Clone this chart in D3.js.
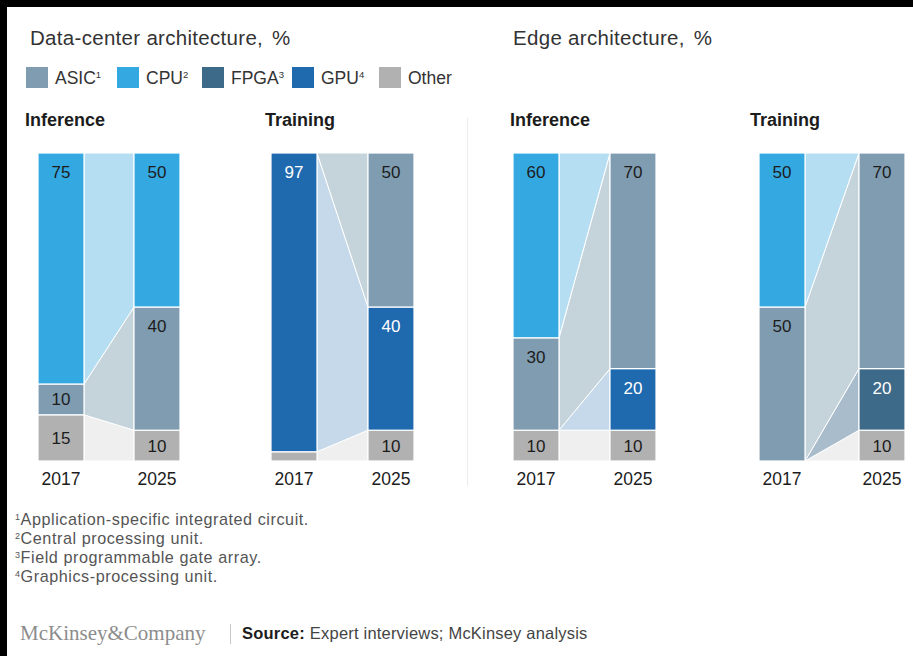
<!DOCTYPE html>
<html>
<head>
<meta charset="utf-8">
<script src="https://cdn.jsdelivr.net/npm/d3@7"></script>
<style>
  html, body { margin: 0; padding: 0; background: #000; }
  svg { display: block; font-family: "Liberation Sans", Arial, sans-serif; }
</style>
</head>
<body>
<svg id="chart" width="913" height="656"></svg>
<script>
// Chip categories with footnote markers
const categories = ["ASIC", "CPU", "FPGA", "GPU", "Other"];
const categoryNotes = ["1", "2", "3", "4", ""];
const years = ["2017", "2025"];

// Section titles and panel names
const sectionTitles = ["Data-center architecture,", "Edge architecture,"];
const panelNames = ["Inference", "Training", "Inference", "Training"];

// Stacking order (bottom to top) and shares, per panel
const stackOrder = [
  ["Other", "ASIC", "CPU"],
  ["Other", "GPU", "ASIC"],
  ["Other", "GPU", "ASIC", "CPU"],
  ["Other", "FPGA", "ASIC", "CPU"]
];
const values2017 = [
  [15, 10, 75],
  [3, 97, 0],
  [10, 0, 30, 60],
  [0, 0, 50, 50]
];
const values2025 = [
  [10, 40, 50],
  [10, 40, 50],
  [10, 20, 70, 0],
  [10, 20, 70, 0]
];

const footnotes = [
  ["1", "Application-specific integrated circuit."],
  ["2", "Central processing unit."],
  ["3", "Field programmable gate array."],
  ["4", "Graphics-processing unit."]
];

// Colors
const barColor = d3.scaleOrdinal().domain(categories)
  .range(["#7f9cb1", "#34a9e1", "#3e6a8a", "#1f69ae", "#b1b1b1"]);
const bandColor = d3.scaleOrdinal().domain(categories)
  .range(["#c5d3db", "#b5def2", "#a9bccb", "#c5d9eb", "#efefef"]);
const labelColor = d3.scaleOrdinal().domain(categories)
  .range(["#1c1c1c", "#1c1c1c", "#ffffff", "#ffffff", "#1c1c1c"]);

const svg = d3.select("#chart");
svg.append("rect").attr("x", 7).attr("y", 7).attr("width", 906).attr("height", 649).attr("fill", "#fff");

// Section titles
const sectionX = [30, 513];
sectionTitles.forEach((t, i) => {
  const tx = svg.append("text").attr("x", sectionX[i]).attr("y", 45)
    .attr("font-size", 20.5).attr("letter-spacing", 0.3).attr("fill", "#333");
  tx.append("tspan").text(t);
  tx.append("tspan").attr("dx", 9).text("%");
});

// Legend
const legendX = [26, 117, 202, 292, 379];
const legend = svg.append("g");
categories.forEach((c, i) => {
  legend.append("rect").attr("x", legendX[i]).attr("y", 67).attr("width", 22).attr("height", 21)
    .attr("fill", barColor(c));
  const t = legend.append("text").attr("x", legendX[i] + 29).attr("y", 84)
    .attr("font-size", 17.5).attr("fill", "#333");
  t.append("tspan").text(c);
  if (categoryNotes[i]) {
    t.append("tspan").attr("font-size", 9.5).attr("dy", -6).text(categoryNotes[i]);
  }
});

// Separator between sections
svg.append("line").attr("x1", 467.5).attr("x2", 467.5).attr("y1", 118).attr("y2", 486)
  .attr("stroke", "#ececec").attr("stroke-width", 1);

// Panels
const panelTitleX = [25, 265, 510, 750];
const barLeft = [[38, 134], [271, 368], [513, 610], [759, 859]];
const barWidth = 46;
const y = d3.scaleLinear().domain([0, 100]).range([461, 153]);

panelNames.forEach((name, p) => {
  const g = svg.append("g");
  g.append("text").attr("x", panelTitleX[p]).attr("y", 126)
    .attr("font-size", 18).attr("font-weight", "bold").attr("fill", "#1c1c1c").text(name);

  const gap = barLeft[p][1] - barLeft[p][0] - barWidth;
  const x = d3.scaleBand().domain(years)
    .range([barLeft[p][0], barLeft[p][1] + barWidth])
    .paddingInner(gap / (barWidth + gap)).paddingOuter(0);

  // Stack each year's shares, bottom to top
  const rows = stackOrder[p].map((c, i) => ({ cat: c, "2017": values2017[p][i], "2025": values2025[p][i] }));
  const stacked = years.map(yr => {
    let acc = 0;
    return rows.map(r => { const s = { cat: r.cat, v: r[yr], y0: acc, y1: acc + r[yr] }; acc += r[yr]; return s; });
  });

  // Connecting bands between the two bars
  const xa = x("2017") + x.bandwidth();
  const xb = x("2025");
  const area = d3.area().x(d => d.x).y0(d => y(d.y0)).y1(d => y(d.y1));
  rows.forEach((r, i) => {
    const a = stacked[0][i], b = stacked[1][i];
    if (a.v === 0 && b.v === 0) return;
    g.append("path")
      .attr("d", area([{ x: xa, y0: a.y0, y1: a.y1 }, { x: xb, y0: b.y0, y1: b.y1 }]))
      .attr("fill", bandColor(r.cat)).attr("stroke", "#fff").attr("stroke-width", 1);
  });

  // Bars with value labels
  years.forEach((yr, k) => {
    stacked[k].forEach(s => {
      if (s.v === 0) return;
      g.append("rect").attr("x", x(yr)).attr("width", x.bandwidth())
        .attr("y", y(s.y1)).attr("height", y(s.y0) - y(s.y1))
        .attr("fill", barColor(s.cat)).attr("stroke", "#fff").attr("stroke-width", 1.2);
      const h = y(s.y0) - y(s.y1);
      if (h < 20) return;
      const ty = h < 60 ? (y(s.y1) + y(s.y0)) / 2 + 6 : y(s.y1) + 25;
      g.append("text").attr("x", x(yr) + x.bandwidth() / 2).attr("y", ty)
        .attr("text-anchor", "middle").attr("font-size", 17).attr("fill", labelColor(s.cat))
        .text(s.v);
    });
    g.append("text").attr("x", x(yr) + x.bandwidth() / 2).attr("y", 485)
      .attr("text-anchor", "middle").attr("font-size", 17.5).attr("fill", "#1c1c1c").text(yr);
  });
});

// Footnotes
footnotes.forEach((f, i) => {
  const t = svg.append("text").attr("x", 15).attr("y", 525 + i * 19)
    .attr("font-size", 16.2).attr("letter-spacing", 0.55).attr("fill", "#555");
  t.append("tspan").attr("font-size", 9).attr("dy", -5).text(f[0]);
  t.append("tspan").attr("dy", 5).text(f[1]);
});

// Footer
svg.append("text").attr("x", 20).attr("y", 640).attr("font-size", 21)
  .style("font-family", "'Liberation Serif', 'DejaVu Serif', serif").attr("fill", "#8c8c8c")
  .text("McKinsey&Company");
svg.append("line").attr("x1", 230.5).attr("x2", 230.5).attr("y1", 624).attr("y2", 644)
  .attr("stroke", "#c8c8c8").attr("stroke-width", 1);
const src = svg.append("text").attr("x", 242).attr("y", 639).attr("font-size", 16.5)
  .attr("letter-spacing", 0.2).attr("fill", "#444");
src.append("tspan").attr("font-weight", "bold").attr("fill", "#1c1c1c").text("Source:");
src.append("tspan").attr("dx", 5).text("Expert interviews; McKinsey analysis");
</script>
</body>
</html>
